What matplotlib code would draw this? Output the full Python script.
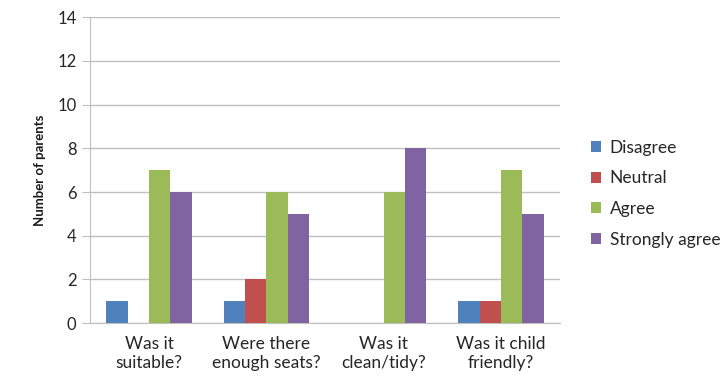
import numpy as np
import matplotlib
matplotlib.use("Agg")
import matplotlib.pyplot as plt

plt.rcParams['font.family'] = ['Lato', 'DejaVu Sans']

questions = ["Was it\nsuitable?", "Were there\nenough seats?", "Was it\nclean/tidy?", "Was it child\nfriendly?"]
responses = ["Disagree", "Neutral", "Agree", "Strongly agree"]
disagree = [1, 1, 0, 1]
neutral = [0, 2, 0, 1]
agree = [7, 6, 6, 7]
strongly_agree = [6, 5, 8, 5]
colours = ["#4F81BD", "#C0504D", "#9BBB59", "#8064A2"]

series = [disagree, neutral, agree, strongly_agree]

fig = plt.figure(figsize=(7.28, 3.82), dpi=100)
ax = fig.add_axes([0.124, 0.154, 0.645, 0.801])

x = np.arange(len(questions))
w = 1 / 5.5
for i, vals in enumerate(series):
    ax.bar(x + (i - 1.5) * w, vals, w, color=colours[i], label=responses[i], zorder=3)

ax.set_xlim(-0.5, len(questions) - 0.5)
ax.set_ylim(0, 14)
ax.set_yticks(range(0, 15, 2))
ax.set_xticks(x)
ax.set_xticklabels(questions, fontsize=12.5, color="#262626", linespacing=1.25)
ax.tick_params(axis='x', length=0, pad=9)
ax.tick_params(axis='y', length=6, color="#BFBFBF", labelsize=12, labelcolor="#262626", pad=4)
ax.yaxis.grid(True, color="#BFBFBF", linewidth=1, zorder=0)
for s in ['top', 'right']:
    ax.spines[s].set_visible(False)
ax.spines['left'].set_color("#BFBFBF")
ax.spines['bottom'].set_color("#BFBFBF")
ax.set_ylabel("Number of parents", fontsize=9.5, fontweight='bold', color="#1a1a1a", labelpad=8)

fig.legend(loc='center left', bbox_to_anchor=(0.79, 0.493), frameon=False, fontsize=12.5,
           labelspacing=0.85, handlelength=0.6, handleheight=0.6, handletextpad=0.5,
           labelcolor="#262626")

fig.savefig("out.png", dpi=100)
